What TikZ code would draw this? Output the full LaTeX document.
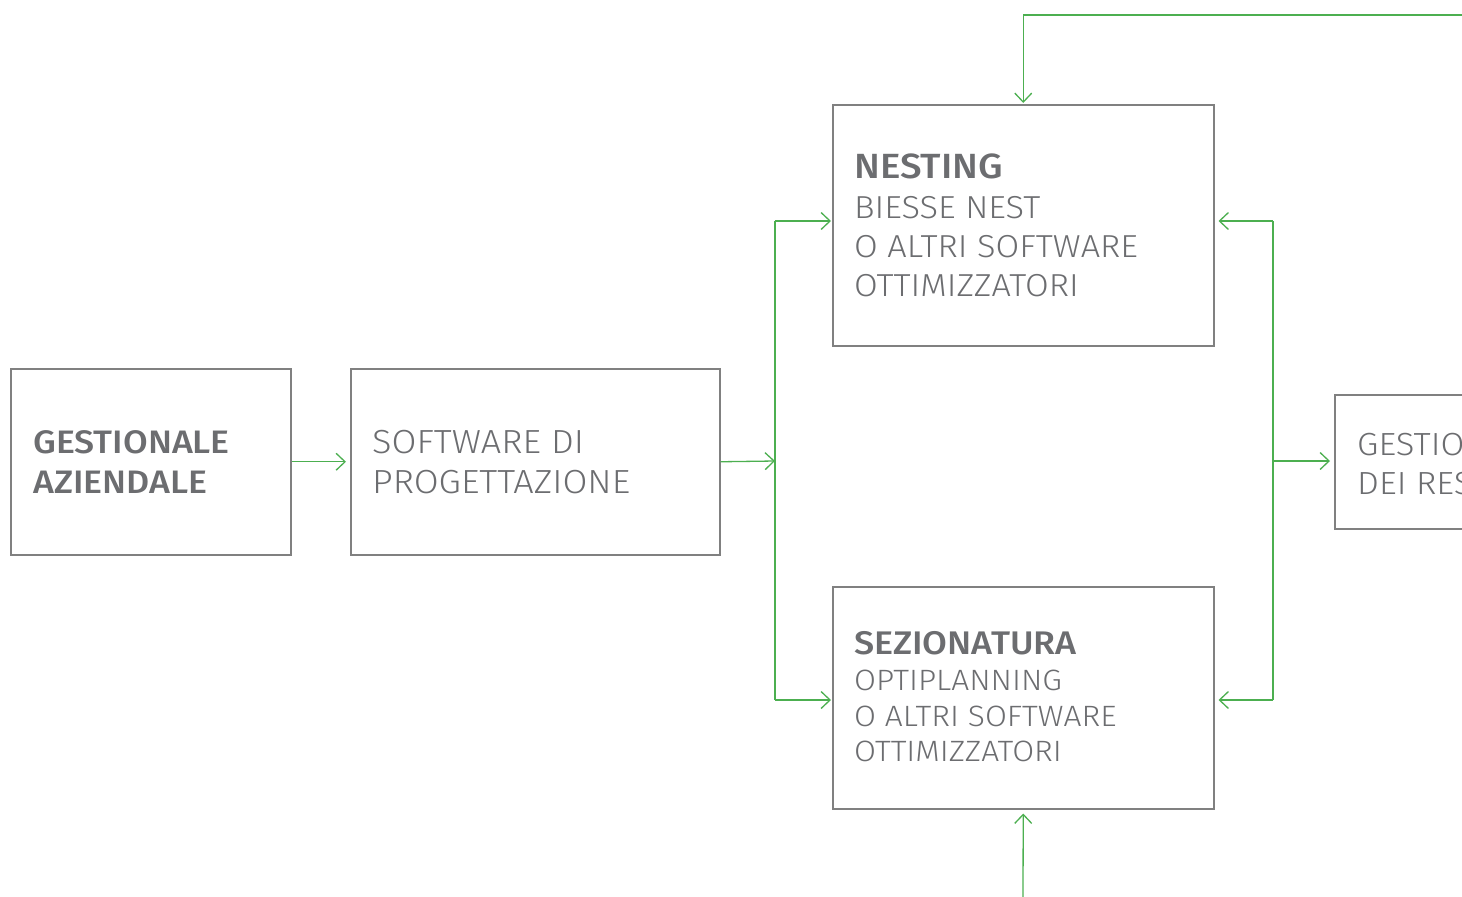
\documentclass[tikz,border=0pt]{standalone}
\usepackage{fontspec}
\setmainfont{Fira Sans Light}[FakeStretch=1.08]
\newfontfamily\medfont{Fira Sans Medium}[FakeStretch=1.1]
\usetikzlibrary{arrows.meta}
\definecolor{boxgray}{RGB}{128,128,128}
\definecolor{txtgray}{RGB}{108,109,112}
\definecolor{lgreen}{RGB}{76,175,80}
\tikzset{
  boxnode/.style={draw=boxgray, line width=1.5pt, rectangle, anchor=north west, inner sep=0pt},
  conn/.style={draw=lgreen, line width=1.3pt},
  arr/.style={conn, -{Straight Barb[length=9pt,width=17pt,line width=1.3pt]}},
  lbl/.style={anchor=base west, inner sep=0pt, text=txtgray},
  ttl/.style={anchor=base west, inner sep=0pt, text=txtgray},
  fa/.style={font=\medfont\fontsize{32.5}{32.5}\selectfont},
  fb/.style={font=\fontsize{33.4}{33.4}\selectfont},
  fn/.style={font=\medfont\fontsize{35}{35}\selectfont},
  fnl/.style={font=\fontsize{31.8}{31.8}\selectfont},
  fs/.style={font=\medfont\fontsize{32.7}{32.7}\selectfont},
  fsl/.style={font=\fontsize{29.4}{29.4}\selectfont},
  fr/.style={font=\fontsize{32}{32}\selectfont},
}
\begin{document}
\begin{tikzpicture}[x=1pt,y=-1pt]
\useasboundingbox (0,0) rectangle (1462,897);
\clip (0,0) rectangle (1462,897);
% boxes
\node[boxnode, minimum width=280pt, minimum height=186pt] (A) at (10,368) {};
\node[boxnode, minimum width=369pt, minimum height=186pt] (B) at (350,368) {};
\node[boxnode, minimum width=381pt, minimum height=241pt] (N) at (832,104) {};
\node[boxnode, minimum width=381pt, minimum height=222pt] (S) at (832,586) {};
\node[boxnode, minimum width=200pt, minimum height=134pt] (R) at (1334,394) {};
% texts
\node[ttl, fa] (a1) at (33,453) {GESTIONALE};
\node[ttl, fa] (a2) at (33,493) {AZIENDALE};
\node[lbl, fb] (b1) at (372,453) {SOFTWARE DI};
\node[lbl, fb] (b2) at (372,493) {PROGETTAZIONE};
\node[ttl, fn] (n1t) at (854,178) {NESTING};
\node[lbl, fnl] (n2t) at (854,218) {BIESSE NEST};
\node[lbl, fnl] (n3t) at (854,257) {O ALTRI SOFTWARE};
\node[lbl, fnl] (n4t) at (854,296) {OTTIMIZZATORI};
\node[ttl, fs] (s1t) at (854,654) {SEZIONATURA};
\node[lbl, fsl] (s2t) at (854,690) {OPTIPLANNING};
\node[lbl, fsl] (s3t) at (854,726) {O ALTRI SOFTWARE};
\node[lbl, fsl] (s4t) at (854,761) {OTTIMIZZATORI};
\node[lbl, fr] (r1t) at (1357,455) {GESTIONE};
\node[lbl, fr] (r2t) at (1357,494) {DEI RESTI};
% coordinates
\coordinate (J1) at (775,461);
\coordinate (L1) at (775,221);
\coordinate (L2) at (775,700);
\coordinate (J2) at (1273,461);
\coordinate (M1) at (1273,221);
\coordinate (M2) at (1273,700);
\coordinate (T0) at (1462,15);
\coordinate (B0) at (1023,897);
% connectors
\draw[arr, shorten >=4pt] (A.east) -- (B.west);
\draw[arr] (B.east) -- (J1);
\draw[conn] (L1) -- (L2);
\draw[arr, shorten >=1pt] (L1) -- (L1 -| N.west);
\draw[arr, shorten >=1pt] (L2) -- (L2 -| S.west);
\draw[conn] (M1) -- (M2);
\draw[arr, shorten >=4pt] (M1) -- (M1 -| N.east);
\draw[arr, shorten >=4pt] (M2) -- (M2 -| S.east);
\draw[arr, shorten >=4pt] (J2) -- (J2 -| R.west);
\draw[arr, shorten >=1pt] (T0) -| (N.north);
\draw[arr, shorten >=4pt] (B0) -- (S.south);
\end{tikzpicture}
\end{document}
